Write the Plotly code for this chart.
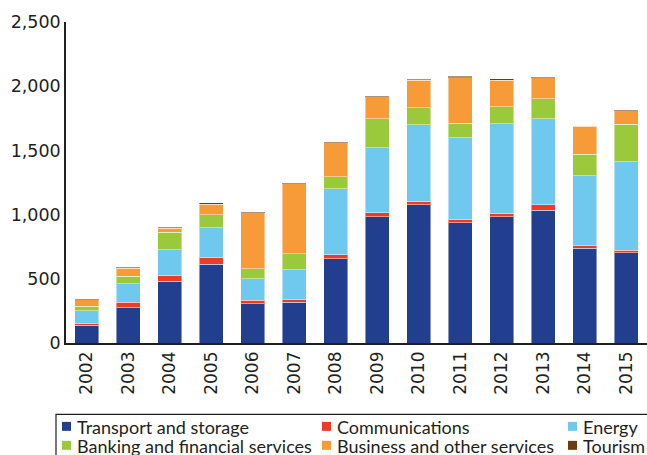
import plotly.graph_objects as go

years = ["2002", "2003", "2004", "2005", "2006", "2007", "2008",
         "2009", "2010", "2011", "2012", "2013", "2014", "2015"]

transport = [138, 276, 481, 613, 305, 318, 655, 982, 1075, 935, 982, 1033, 738, 704]
communications = [16, 42, 47, 55, 28, 23, 34, 34, 29, 28, 26, 45, 23, 18]
energy = [99, 143, 197, 231, 169, 229, 511, 503, 596, 636, 700, 669, 540, 690]
banking = [33, 59, 137, 99, 78, 126, 93, 226, 133, 112, 132, 156, 168, 291]
business = [52, 62, 31, 82, 433, 543, 265, 171, 212, 353, 205, 161, 218, 106]
tourism = [2, 8, 8, 13, 5, 5, 10, 10, 8, 15, 13, 8, 6, 8]

series_names = ["Transport and storage", "Communications", "Energy",
                "Banking and financial services", "Business and other services", "Tourism"]
series_values = [transport, communications, energy, banking, business, tourism]
colors = ["#223E8F", "#EE3B24", "#6FC9EF", "#9AC93B", "#F79A38", "#6A3A12"]

y_ticks = [0, 500, 1000, 1500, 2000, 2500]

TICK_FONT = "DejaVu Sans"
LEG_FONT = "Lato"
TXT = "#231F20"

fig = go.Figure()
for name, vals, col in zip(series_names, series_values, colors):
    fig.add_trace(go.Bar(
        x=years, y=vals, name=name, showlegend=False,
        marker=dict(color=col, line=dict(color="rgba(255,255,255,0.45)", width=1)),
    ))

W, H = 647, 455
L, R, T, B = 66, 0, 22, 111.5
pw = W - L - R
ph = H - T - B


def px_x(p):
    return (p - L) / pw


def px_y(p):
    return (H - B - p) / ph


# legend layout (pixel positions)
col_x = [62, 322, 568]
row_y = [427, 446]
sq = 9

shapes = [dict(type="rect", xref="paper", yref="paper",
               x0=px_x(56), x1=px_x(700), y0=px_y(415), y1=px_y(490),
               line=dict(color=TXT, width=1.2), fillcolor="rgba(0,0,0,0)")]
annotations = []
for i, (name, col) in enumerate(zip(series_names, colors)):
    cx = col_x[i % 3]
    cy = row_y[i // 3]
    shapes.append(dict(type="rect", xref="paper", yref="paper",
                       x0=px_x(cx), x1=px_x(cx + sq),
                       y0=px_y(cy + sq / 2), y1=px_y(cy - sq / 2),
                       line=dict(width=0), fillcolor=col))
    annotations.append(dict(text=name, xref="paper", yref="paper",
                            x=px_x(cx + sq + 5), y=px_y(cy + 0.5),
                            xanchor="left", yanchor="middle", showarrow=False,
                            borderpad=0,
                            font=dict(family=LEG_FONT, size=18, color=TXT)))

fig.update_layout(
    width=W, height=H,
    margin=dict(l=L, r=R, t=T, b=B, pad=0, autoexpand=False),
    barmode="stack",
    bargap=0.42,
    plot_bgcolor="white",
    paper_bgcolor="white",
    showlegend=False,
    font=dict(family=TICK_FONT, color=TXT, size=17),
    xaxis=dict(
        type="category", tickangle=-90, showgrid=False, ticks="",
        showline=True, linecolor=TXT, linewidth=1.5,
        tickfont=dict(size=17, family=TICK_FONT, color=TXT),
    ),
    yaxis=dict(
        range=[0, 2500], tickvals=y_ticks, tickformat=",", showgrid=False,
        zeroline=False, ticks="", showline=True, linecolor=TXT, linewidth=1.5,
        tickfont=dict(size=17.5, family=TICK_FONT, color=TXT),
    ),
    shapes=shapes,
    annotations=annotations,
)

fig.write_html("out.html", config={"displayModeBar": False},
               post_script="document.body.style.margin='0';")
